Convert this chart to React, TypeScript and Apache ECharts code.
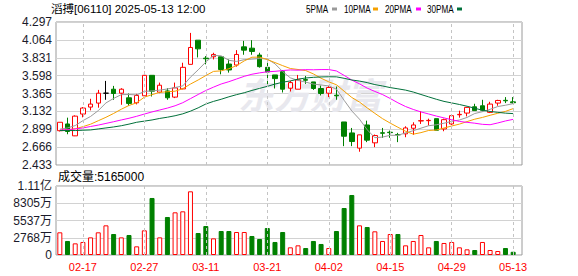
import React, { useEffect, useRef } from "react";
import * as echarts from "echarts";

const stockName = "滔搏";
const stockCode = "06110";
const timestamp = "2025-05-13 12:00";

const dates = [
  "02-12", "02-13", "02-14", "02-17", "02-18", "02-19", "02-20", "02-21", "02-24", "02-25",
  "02-26", "02-27", "02-28", "03-03", "03-04", "03-05", "03-06", "03-07", "03-10", "03-11",
  "03-12", "03-13", "03-14", "03-17", "03-18", "03-19", "03-20", "03-21", "03-24", "03-25",
  "03-26", "03-27", "03-28", "03-31", "04-01", "04-02", "04-03", "04-07", "04-08", "04-09",
  "04-10", "04-11", "04-14", "04-15", "04-16", "04-17", "04-22", "04-23", "04-24", "04-25",
  "04-28", "04-29", "04-30", "05-02", "05-06", "05-07", "05-08", "05-09", "05-12", "05-13",
];

const opens = [
  2.88, 2.968, 2.813, 3.097, 3.188, 3.24, 3.369, 3.421, 3.369, 3.309,
  3.244, 3.335, 3.602, 3.382, 3.399, 3.318, 3.425, 3.745, 4.06, 3.826,
  3.844, 3.844, 3.749, 3.736, 3.973, 3.956, 3.866, 3.706, 3.607, 3.65,
  3.434, 3.421, 3.546, 3.516, 3.43, 3.369, 3.343, 2.994, 2.851, 2.653,
  2.955, 2.722, 2.853, 2.86, 2.83, 2.839, 2.912, 3.007, 3.011, 3.037,
  2.903, 2.968, 3.088, 3.11, 3.192, 3.205, 3.119, 3.24, 3.276, 3.256,
];
const closes = [
  2.99, 2.87, 3.07, 3.175, 3.227, 3.369, 3.369, 3.365, 3.421, 3.236,
  3.339, 3.602, 3.395, 3.473, 3.309, 3.438, 3.706, 3.965, 3.947, 3.818,
  3.874, 3.678, 3.672, 3.874, 3.93, 3.913, 3.715, 3.645, 3.559, 3.421,
  3.507, 3.542, 3.538, 3.43, 3.365, 3.443, 3.335, 2.808, 2.739, 2.826,
  2.757, 2.817, 2.847, 2.855, 2.826, 2.916, 2.955, 3.011, 3.015, 2.886,
  3.024, 3.076, 3.093, 3.184, 3.142, 3.147, 3.227, 3.274, 3.27, 3.245,
];
const lows = [
  2.87, 2.834, 2.81, 3.054, 3.145, 3.18, 3.283, 3.283, 3.218, 3.205,
  3.223, 3.318, 3.326, 3.369, 3.283, 3.305, 3.421, 3.745, 3.835, 3.745,
  3.809, 3.615, 3.637, 3.715, 3.87, 3.87, 3.702, 3.473, 3.43, 3.378,
  3.391, 3.421, 3.49, 3.412, 3.339, 3.318, 3.283, 2.679, 2.679, 2.606,
  2.731, 2.666, 2.787, 2.787, 2.731, 2.795, 2.826, 2.968, 2.947, 2.886,
  2.873, 2.955, 3.05, 3.067, 3.141, 3.132, 3.11, 3.205, 3.24, 3.231,
];
const highs = [
  2.99, 3.05, 3.08, 3.188, 3.296, 3.412, 3.529, 3.464, 3.434, 3.365,
  3.36, 3.65, 3.602, 3.507, 3.434, 3.507, 3.766, 4.155, 4.06, 3.853,
  3.896, 3.844, 3.809, 3.93, 4.051, 4.06, 3.896, 3.766, 3.607, 3.671,
  3.529, 3.607, 3.594, 3.516, 3.469, 3.464, 3.456, 2.994, 2.916, 2.826,
  3.011, 2.83, 2.916, 2.882, 2.852, 2.938, 2.99, 3.136, 3.037, 3.037,
  3.037, 3.097, 3.141, 3.188, 3.231, 3.283, 3.257, 3.283, 3.318, 3.318,
];

const volumes = [
  36400000, 22500000, 18700000, 20900000, 28300000, 36400000, 47600000, 33700000, 28300000, 32100000,
  13900000, 39600000, 91500000, 28300000, 61000000, 68500000, 70100000, 102200000, 35300000, 46500000,
  26700000, 38500000, 38500000, 36900000, 36900000, 30500000, 25700000, 43300000, 20900000, 36900000,
  12300000, 15500000, 11200000, 22500000, 17700000, 11200000, 38500000, 75400000, 96300000, 47600000,
  44900000, 38000000, 22500000, 33700000, 33700000, 15500000, 22500000, 32100000, 12300000, 22500000,
  19300000, 20900000, 12300000, 9100000, 8000000, 20900000, 8000000, 6400000, 11200000, 5165000,
];

const ma5 = [
  2.9, 2.916, 2.947, 3.011, 3.066, 3.142, 3.242, 3.301, 3.35, 3.352,
  3.346, 3.393, 3.399, 3.409, 3.424, 3.443, 3.464, 3.578, 3.673, 3.775,
  3.862, 3.856, 3.798, 3.783, 3.806, 3.813, 3.821, 3.815, 3.752, 3.651,
  3.569, 3.535, 3.513, 3.488, 3.476, 3.464, 3.422, 3.276, 3.138, 3.03,
  2.893, 2.789, 2.797, 2.82, 2.82, 2.852, 2.88, 2.913, 2.945, 2.957,
  2.978, 3.002, 3.019, 3.053, 3.104, 3.128, 3.159, 3.195, 3.212, 3.233,
];
const ma10 = [
  2.885, 2.893, 2.905, 2.933, 2.965, 3.01, 3.055, 3.105, 3.16, 3.209,
  3.244, 3.317, 3.35, 3.38, 3.388, 3.395, 3.428, 3.488, 3.541, 3.599,
  3.653, 3.66, 3.688, 3.728, 3.79, 3.838, 3.839, 3.807, 3.768, 3.728,
  3.691, 3.678, 3.664, 3.62, 3.564, 3.517, 3.479, 3.395, 3.313, 3.253,
  3.178, 3.106, 3.037, 2.979, 2.925, 2.873, 2.835, 2.855, 2.883, 2.889,
  2.915, 2.941, 2.966, 2.999, 3.03, 3.053, 3.081, 3.107, 3.132, 3.168,
];
const ma20 = [
  2.888, 2.893, 2.903, 2.916, 2.935, 2.953, 2.975, 2.997, 3.02, 3.042,
  3.068, 3.097, 3.125, 3.15, 3.175, 3.205, 3.245, 3.298, 3.352, 3.404,
  3.448, 3.489, 3.519, 3.554, 3.589, 3.616, 3.634, 3.648, 3.654, 3.664,
  3.672, 3.669, 3.676, 3.674, 3.677, 3.677, 3.659, 3.601, 3.54, 3.491,
  3.435, 3.392, 3.351, 3.3, 3.244, 3.195, 3.157, 3.125, 3.098, 3.071,
  3.047, 3.023, 3.001, 2.989, 2.978, 2.963, 2.958, 2.981, 3.007, 3.028,
];
const ma30 = [
  2.882, 2.882, 2.882, 2.886, 2.89, 2.903, 2.916, 2.929, 2.945, 2.966,
  2.99, 3.005, 3.02, 3.04, 3.056, 3.075, 3.1, 3.135, 3.178, 3.228,
  3.262, 3.29, 3.322, 3.35, 3.375, 3.405, 3.432, 3.458, 3.488, 3.512,
  3.529, 3.552, 3.567, 3.576, 3.581, 3.583, 3.582, 3.563, 3.541, 3.527,
  3.507, 3.481, 3.463, 3.442, 3.426, 3.409, 3.384, 3.352, 3.321, 3.29,
  3.262, 3.242, 3.222, 3.199, 3.173, 3.147, 3.131, 3.119, 3.109, 3.103,
];

const maNames = ["5PMA", "10PMA", "20PMA", "30PMA"];
const maColors = ["#9a9a9a", "#f5a000", "#ff00ff", "#00703a"];

const priceTicks = ["2.433", "2.666", "2.899", "3.132", "3.365", "3.598", "3.831", "4.064", "4.297"];
const priceMin = 2.433;
const priceMax = 4.297;
const volTicks = ["0", "2768万", "5537万", "8305万", "1.11亿"];
const volMax = 110730000;
const markedDates = ["02-17", "02-27", "03-11", "03-21", "04-02", "04-15", "04-29", "05-13"];

const UP = "#ff0000";
const DOWN = "#008000";
const FONT = "'Liberation Sans', 'Noto Sans CJK SC', sans-serif";

// legend layout (text start x, swatch x)
const legendTextX = [306, 344, 385, 427];
const legendSwatchX = [332, 373, 416, 457];

export default function App() {
  const ref = useRef<HTMLDivElement>(null);

  useEffect(() => {
    if (!ref.current) return;
    const chart = echarts.init(ref.current, undefined, { renderer: "svg" });

    const candleData = dates.map((_, i) => {
      const item: any = { value: [opens[i], closes[i], lows[i], highs[i]] };
      if (opens[i] === closes[i]) {
        item.itemStyle = { color: "#000", color0: "#000", borderColor: "#000", borderColor0: "#000" };
      }
      return item;
    });

    const volData = volumes.map((v, i) => {
      const up = i === 0 ? closes[0] >= opens[0] : closes[i] >= closes[i - 1];
      return {
        value: v,
        itemStyle: up
          ? { color: "#ffffff", borderColor: UP, borderWidth: 1 }
          : { color: DOWN, borderColor: DOWN, borderWidth: 1 },
      };
    });

    const dashed = {
      silent: true,
      symbol: ["none", "none"],
      label: { show: false },
      lineStyle: { type: [3, 3], color: "#c4c4c4", width: 1 },
      emphasis: { disabled: true },
      data: markedDates.map((d) => ({ xAxis: d })),
    };

    const maSeries = [ma5, ma10, ma20, ma30].map((arr, k) => ({
      name: maNames[k],
      type: "line",
      xAxisIndex: 1,
      yAxisIndex: 1,
      data: arr,
      showSymbol: false,
      symbol: "none",
      smooth: false,
      lineStyle: { color: maColors[k], width: 1 },
      itemStyle: { color: maColors[k] },
      z: 3,
    }));

    const legendGraphics: any[] = [];
    maNames.forEach((name, k) => {
      legendGraphics.push({
        type: "text",
        x: legendTextX[k],
        y: 9,
        scaleX: 0.74,
        style: {
          text: name,
          fill: "#000",
          fontSize: 11,
          fontFamily: FONT,
          verticalAlign: "middle",
        },
      });
      legendGraphics.push({
        type: "rect",
        shape: { x: legendSwatchX[k], y: 7.5, width: 5, height: 3 },
        style: { fill: maColors[k] },
      });
    });

    const option: any = {
      animation: false,
      textStyle: { fontFamily: FONT },
      grid: [
        { left: 56, top: 22, width: 466, height: 143, show: true, borderColor: "#9a9a9a", borderWidth: 1, backgroundColor: "transparent" },
        { left: 56, top: 22, width: 461, height: 143 },
        { left: 56, top: 186, width: 466, height: 69, show: true, borderColor: "#9a9a9a", borderWidth: 1, backgroundColor: "transparent" },
        { left: 56, top: 186, width: 461, height: 69 },
      ],
      xAxis: [
        { type: "value", gridIndex: 0, min: 0, max: 1, show: false },
        { type: "category", gridIndex: 1, data: dates, boundaryGap: true, show: false },
        { type: "value", gridIndex: 2, min: 0, max: 1, show: false },
        {
          type: "category",
          gridIndex: 3,
          data: dates,
          boundaryGap: true,
          axisLine: { show: false },
          axisTick: { show: false },
          splitLine: { show: false },
          axisLabel: {
            interval: (idx: number) => markedDates.includes(dates[idx]),
            color: "#ff0000",
            fontSize: 11,
            margin: 6,
            fontFamily: FONT,
          },
        },
      ],
      yAxis: [
        {
          type: "value",
          gridIndex: 0,
          min: 0,
          max: 8,
          interval: 1,
          axisLine: { show: false },
          axisTick: { show: false },
          axisLabel: {
            formatter: (v: number) => priceTicks[v] ?? "",
            margin: 4,
            color: "#1a1a2a",
            fontSize: 12,
            fontFamily: FONT,
          },
          splitLine: { show: true, lineStyle: { color: "#d2d2d2", width: 1 } },
        },
        { type: "value", gridIndex: 1, min: priceMin, max: priceMax, show: false, splitLine: { show: false } },
        {
          type: "value",
          gridIndex: 2,
          min: 0,
          max: 4,
          interval: 1,
          axisLine: { show: false },
          axisTick: { show: false },
          axisLabel: {
            formatter: (v: number) => volTicks[v] ?? "",
            margin: 4,
            color: "#1a1a2a",
            fontSize: 12,
            fontFamily: FONT,
          },
          splitLine: { show: true, lineStyle: { color: "#d2d2d2", width: 1 } },
        },
        { type: "value", gridIndex: 3, min: 0, max: volMax, show: false, splitLine: { show: false } },
      ],
      graphic: [
        {
          type: "text",
          x: 51,
          y: 9,
          style: {
            text: `${stockName}[${stockCode}] ${timestamp}`,
            fill: "#000",
            fontSize: 11.5,
            fontFamily: FONT,
            verticalAlign: "middle",
          },
        },
        ...legendGraphics,
        {
          type: "text",
          x: 58,
          y: 177,
          style: {
            text: `成交量:${volumes[volumes.length - 1]}`,
            fill: "#000",
            fontSize: 12,
            fontFamily: FONT,
            verticalAlign: "middle",
          },
        },
        {
          type: "text",
          x: 238,
          y: 93,
          z: 1,
          style: {
            text: "东方财富",
            fill: "#e8e8ee",
            fontSize: 36,
            fontWeight: "bold",
            fontStyle: "italic",
            fontFamily: "'Noto Sans CJK SC', sans-serif",
            verticalAlign: "middle",
          },
        },
      ],
      series: [
        {
          name: "K",
          type: "candlestick",
          xAxisIndex: 1,
          yAxisIndex: 1,
          data: candleData,
          barWidth: 5,
          itemStyle: {
            color: "#ffffff",
            color0: DOWN,
            borderColor: UP,
            borderColor0: DOWN,
            borderColorDoji: "#000",
            borderWidth: 1,
          },
          markLine: dashed,
          z: 2,
        },
        ...maSeries,
        {
          name: "VOL",
          type: "bar",
          xAxisIndex: 3,
          yAxisIndex: 3,
          data: volData,
          barWidth: 5,
          markLine: dashed,
        },
      ],
    };

    chart.setOption(option);
    return () => chart.dispose();
  }, []);

  return (
    <div
      ref={ref}
      style={{ position: "fixed", left: 0, top: 0, width: 578, height: 276, background: "#fff" }}
    />
  );
}
